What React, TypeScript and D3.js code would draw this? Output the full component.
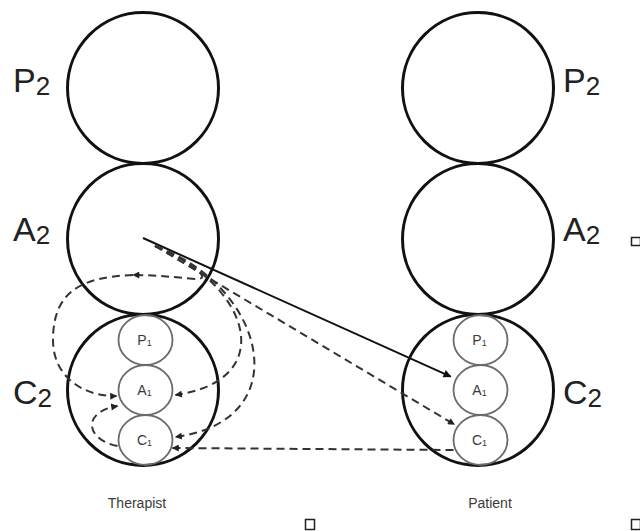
import React from "react";
import * as d3 from "d3";

// ---- data ----
const sides = ["Therapist", "Patient"];
const egoStates = ["P", "A", "C"];
const outerSub = "2";
const innerSub = "1";
const captions = ["Therapist", "Patient"];

const W = 640;
const H = 531;
const R = 75.5;
const INNER_RX = 27;
const INNER_RY = 25;
const FONT = "'Liberation Sans', Arial, Helvetica, sans-serif";

export default function App() {
  const x = d3.scalePoint<string>().domain(sides).range([143, 478]);
  const y = d3.scalePoint<string>().domain(egoStates).range([88, 390]);
  const yInner = d3.scalePoint<string>().domain(egoStates).range([-50, 50]);
  const innerDx = 2.5;

  const innerCenter = (side: string, st: string) => [
    (x(side) as number) + innerDx,
    (y("C") as number) + (yInner(st) as number),
  ];
  const outerCenter = (side: string, st: string) => [x(side) as number, y(st) as number];

  const ellipseHit = (cx: number, cy: number, px: number, py: number, gap: number) => {
    const dx = px - cx, dy = py - cy;
    const t = 1 / Math.sqrt((dx * dx) / (INNER_RX * INNER_RX) + (dy * dy) / (INNER_RY * INNER_RY));
    const ex = cx + dx * t, ey = cy + dy * t;
    const len = Math.hypot(dx, dy);
    return [ex + (dx / len) * gap, ey + (dy / len) * gap];
  };

  const tc = outerCenter("Therapist", "A");
  const solidStart = [tc[0], tc[1] - 1];
  const dashStart = [tc[0] + 12, tc[1] + 7];

  const line = d3.line();

  const pA1 = innerCenter("Patient", "A");
  const pC1 = innerCenter("Patient", "C");
  const tA1 = innerCenter("Therapist", "A");
  const tC1 = innerCenter("Therapist", "C");
  const solidEnd = ellipseHit(pA1[0], pA1[1], solidStart[0], solidStart[1], 6);
  const dashEnd = ellipseHit(pC1[0], pC1[1], dashStart[0], dashStart[1], 4);
  const horizStart: [number, number] = [pC1[0] - INNER_RX, pC1[1] + 10];
  const horizEnd: [number, number] = [tC1[0] + 27, tC1[1] + 8];

  const tcx = x("Therapist") as number;
  const c2y = y("C") as number;
  const p2 = d3.path();
  p2.moveTo(dashStart[0], dashStart[1]);
  p2.bezierCurveTo(tcx + 107, c2y - 105, tcx + 137, c2y - 10, tA1[0] + INNER_RX + 3, tA1[1] + 5);

  const p3 = d3.path();
  p3.moveTo(dashStart[0], dashStart[1]);
  p3.bezierCurveTo(tcx + 122, c2y - 105, tcx + 157, c2y + 30, tC1[0] + INNER_RX + 3, tC1[1] - 3);

  const p1a = d3.path();
  p1a.moveTo(dashStart[0], dashStart[1]);
  p1a.bezierCurveTo(tcx + 47, c2y - 128, tcx + 72, c2y - 110, tcx + 52, c2y - 111);
  p1a.bezierCurveTo(tcx + 30, c2y - 113, tcx + 10, c2y - 115, tcx - 10, c2y - 115);

  const p1b = d3.path();
  p1b.moveTo(tcx - 10, c2y - 115);
  p1b.bezierCurveTo(tcx - 60, c2y - 113, tcx - 90, c2y - 100, tcx - 90, c2y - 50);
  p1b.bezierCurveTo(tcx - 90, c2y - 10, tcx - 55, c2y + 7, tA1[0] - INNER_RX - 2, tA1[1] + 6);

  const p4 = d3.path();
  p4.moveTo(tC1[0] - INNER_RX - 1, tC1[1] + 6);
  p4.bezierCurveTo(tcx - 57, c2y + 50, tcx - 62, c2y + 22, tA1[0] - INNER_RX - 1, tA1[1] + 16);

  const dash = "8,5";
  const dashColor = "#333";

  const Label = ({ lx, ly, main, sub, size, subSize, anchor, color, weight }: any) => (
    <text x={lx} y={ly} fontFamily={FONT} fontSize={size} fill={color} textAnchor={anchor} fontWeight={weight}>
      {main}
      <tspan fontSize={subSize} dy={size * 0.1}>{sub}</tspan>
    </text>
  );

  const labelBaseline: Record<string, number> = { P: 92, A: 241, C: 404 };

  return (
    <svg width={W} height={H} style={{ position: "absolute", left: 0, top: 0, background: "#fff" }}>
      <defs>
        <marker id="arrSolid" viewBox="0 0 10 10" refX="9" refY="5" markerWidth="9" markerHeight="8"
          markerUnits="userSpaceOnUse" orient="auto">
          <path d="M0,0 L10,5 L0,10 Z" fill="#111" />
        </marker>
        <marker id="arrDash" viewBox="0 0 10 10" refX="9" refY="5" markerWidth="8" markerHeight="7"
          markerUnits="userSpaceOnUse" orient="auto">
          <path d="M0,0 L10,5 L0,10 Z" fill="#222" />
        </marker>
      </defs>

      {sides.map((s) =>
        egoStates.map((st) => (
          <circle key={s + st} cx={x(s)} cy={y(st)} r={R} fill="none" stroke="#111" strokeWidth={3} />
        ))
      )}

      {sides.map((s) =>
        egoStates.map((st) => {
          const [cx, cy] = innerCenter(s, st);
          return (
            <g key={"i" + s + st}>
              <ellipse cx={cx} cy={cy} rx={INNER_RX} ry={INNER_RY} fill="none" stroke="#6a6a6a" strokeWidth={1.8} />
              <Label lx={cx - 1} ly={cy + 5} main={st} sub={innerSub} size={14} subSize={9}
                anchor="middle" color="#3a3a3a" />
            </g>
          );
        })
      )}

      {egoStates.map((st) => (
        <g key={"l" + st}>
          <Label lx={13} ly={labelBaseline[st]} main={st} sub={outerSub} size={34} subSize={26}
            anchor="start" color="#222" />
          <Label lx={563} ly={labelBaseline[st]} main={st} sub={outerSub} size={34} subSize={26}
            anchor="start" color="#222" />
        </g>
      ))}

      <path d={line([solidStart as [number, number], solidEnd as [number, number]]) as string}
        stroke="#111" strokeWidth={2} fill="none" markerEnd="url(#arrSolid)" />
      <path d={line([dashStart as [number, number], dashEnd as [number, number]]) as string}
        stroke={dashColor} strokeWidth={2} strokeDasharray={dash} fill="none" markerEnd="url(#arrDash)" />
      <path d={line([horizStart, horizEnd]) as string}
        stroke={dashColor} strokeWidth={2} strokeDasharray={dash} fill="none" markerEnd="url(#arrDash)" />

      {[p1a, p1b, p2, p3, p4].map((p, i) => (
        <path key={"c" + i} d={p.toString()} stroke={dashColor} strokeWidth={2} strokeDasharray={dash}
          fill="none" markerEnd="url(#arrDash)" />
      ))}

      {captions.map((c, i) => (
        <text key={c} x={i === 0 ? 137 : 490} y={508} fontFamily={FONT} fontSize={14}
          textAnchor="middle" fill="#3a3a3a">{c}</text>
      ))}

      <rect x={305.5} y={519.5} width={9} height={10} fill="none" stroke="#222" strokeWidth={1.5} />
      <rect x={631.5} y={519.5} width={9} height={10} fill="none" stroke="#222" strokeWidth={1.5} />
      <rect x={631.5} y={237.5} width={9} height={8} fill="none" stroke="#222" strokeWidth={1.5} />
    </svg>
  );
}
